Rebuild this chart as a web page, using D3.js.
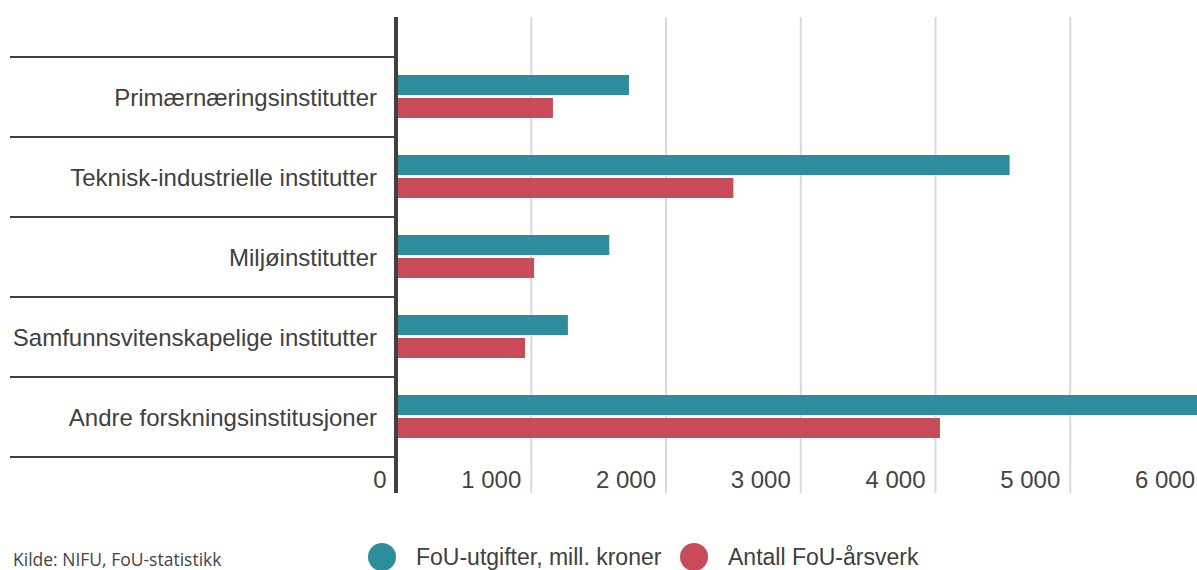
<!DOCTYPE html>
<html>
<head>
<meta charset="utf-8">
<script src="https://cdn.jsdelivr.net/npm/d3@7.9.0/dist/d3.min.js"></script>
<style>
  html, body { margin: 0; padding: 0; background: #fff; }
  svg { display: block; font-family: "Liberation Sans", Arial, sans-serif; }
</style>
</head>
<body>
<svg id="chart" width="1197" height="570"></svg>
<script>
const categories = [
  "Primærnæringsinstitutter",
  "Teknisk-industrielle institutter",
  "Miljøinstitutter",
  "Samfunnsvitenskapelige institutter",
  "Andre forskningsinstitusjoner",
];
const seriesNames = ["FoU-utgifter, mill. kroner", "Antall FoU-årsverk"];
const utgifter = [1725, 4550, 1579, 1272, 6060];
const arsverk = [1161, 2500, 1021, 954, 4033];
const xTicks = [0, 1000, 2000, 3000, 4000, 5000, 6000];
const source = "Kilde: NIFU, FoU-statistikk";

const colors = ["#2e8d9d", "#c84b59"];

const svg = d3.select("#chart");
const width = 1197;
const height = 570;

const x = d3.scaleLinear().domain([0, 6000]).range([396.5, 1205]);
const y = d3.scaleBand().domain(categories).range([57, 457]);

const fmt = (v) => d3.format(",")(v).replace(/,/g, " ");

svg.append("defs").append("clipPath").attr("id", "clip")
  .append("rect").attr("x", 0).attr("y", 0).attr("width", width).attr("height", height);

// gridlines
svg.append("g")
  .selectAll("line")
  .data(xTicks.slice(1))
  .join("line")
  .attr("x1", (d) => x(d)).attr("x2", (d) => x(d))
  .attr("y1", 17).attr("y2", 493)
  .attr("stroke", "#d9d9d9")
  .attr("stroke-width", 2);

// x tick labels
svg.append("g")
  .selectAll("text")
  .data(xTicks)
  .join("text")
  .attr("x", (d) => x(d) - 10)
  .attr("y", 488)
  .attr("text-anchor", "end")
  .attr("font-size", 24)
  .attr("fill", "#444")
  .text(fmt);

// category separators
svg.append("g")
  .selectAll("line")
  .data(categories.concat([null]))
  .join("line")
  .attr("x1", 10).attr("x2", 396)
  .attr("y1", (d, i) => 57 + i * y.bandwidth())
  .attr("y2", (d, i) => 57 + i * y.bandwidth())
  .attr("stroke", "#3f3f3f")
  .attr("stroke-width", 2);

// category labels
svg.append("g")
  .selectAll("text")
  .data(categories)
  .join("text")
  .attr("x", 377)
  .attr("y", (d) => y(d) + y.bandwidth() / 2 + 9)
  .attr("text-anchor", "end")
  .attr("font-size", 24)
  .attr("fill", "#404040")
  .text((d) => d);

// bars
const bars = svg.append("g").attr("clip-path", "url(#clip)");
const barH = 20;
[utgifter, arsverk].forEach((vals, s) => {
  bars.selectAll(null)
    .data(vals)
    .join("rect")
    .attr("x", x(0))
    .attr("y", (d, i) => y(categories[i]) + 18 + s * (barH + 3))
    .attr("width", (d) => x(d) - x(0))
    .attr("height", barH)
    .attr("fill", colors[s]);
});

// y axis line
svg.append("line")
  .attr("x1", 396).attr("x2", 396)
  .attr("y1", 17).attr("y2", 493)
  .attr("stroke", "#404040")
  .attr("stroke-width", 4);

// legend
const legendX = [382, 694];
const legend = svg.append("g");
seriesNames.forEach((name, i) => {
  legend.append("circle")
    .attr("cx", legendX[i]).attr("cy", 557).attr("r", 14)
    .attr("fill", colors[i]);
  legend.append("text")
    .attr("x", legendX[i] + 34).attr("y", 565)
    .attr("font-size", 23)
    .attr("fill", "#404040")
    .text(name);
});

svg.append("text")
  .attr("x", 13).attr("y", 566)
  .attr("font-family", "'Open Sans', sans-serif")
  .attr("font-size", 17.5)
  .attr("fill", "#444")
  .text(source);
</script>
</body>
</html>
